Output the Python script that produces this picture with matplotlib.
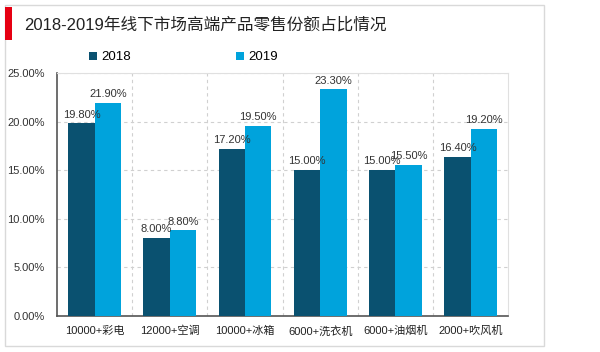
import matplotlib.pyplot as plt
import numpy as np
from matplotlib.patches import Rectangle

plt.rcParams['font.family'] = ['Liberation Sans', 'Noto Sans CJK SC', 'DejaVu Sans']

# datos
categorias = ["10000+彩电", "12000+空调", "10000+冰箱", "6000+洗衣机", "6000+油烟机", "2000+吹风机"]
valores_2018 = [19.80, 8.00, 17.20, 15.00, 15.00, 16.40]
valores_2019 = [21.90, 8.80, 19.50, 23.30, 15.50, 19.20]
yticks = [0, 5, 10, 15, 20, 25]

color_2018 = "#0A5170"
color_2019 = "#00A3DC"

fig = plt.figure(figsize=(6, 3.52), dpi=100)
ax = fig.add_axes([0.095, 0.102, 0.752, 0.691])

# marco exterior y barra roja
fig.patches.append(Rectangle((5/600, 1 - 346/352), 539/600, 341/352, transform=fig.transFigure,
                             fill=False, edgecolor="#D9D9D9", linewidth=1))
fig.patches.append(Rectangle((5/600, 1 - 40/352), 7/600, 33/352, transform=fig.transFigure,
                             facecolor="#E60012", edgecolor="none"))
fig.text(24/600, 1 - 25/352, "2018-2019年线下市场高端产品零售份额占比情况",
         fontsize=12, va="center", ha="left", color="#222222")

x = np.arange(len(categorias))
w = 0.35
b1 = ax.bar(x - w/2, valores_2018, w, color=color_2018, label="2018", zorder=3)
b2 = ax.bar(x + w/2, valores_2019, w, color=color_2019, label="2019", zorder=3)

for bars, vals in [(b1, valores_2018), (b2, valores_2019)]:
    for bar, v in zip(bars, vals):
        ax.text(bar.get_x() + bar.get_width()/2, v + 0.4, f"{v:.2f}%",
                ha="center", va="bottom", fontsize=8, color="#333333", zorder=4)

ax.set_xlim(-0.5, len(categorias) - 0.5)
ax.set_ylim(0, 25)
ax.set_yticks(yticks)
ax.set_yticklabels([f"{t:.2f}%" for t in yticks], fontsize=8, color="#333333")
ax.set_xticks(x)
ax.set_xticklabels(categorias, fontsize=8, color="#222222")
ax.tick_params(length=0, pad=7)
ax.tick_params(axis="y", pad=9)

ax.yaxis.grid(True, linestyle=(0, (3, 3)), color="#D0D0D0", linewidth=0.8, zorder=0)
for xv in np.arange(0.5, len(categorias) - 0.5, 1):
    ax.axvline(xv, linestyle=(0, (3, 3)), color="#D0D0D0", linewidth=0.8, zorder=0)

for s in ["top", "right"]:
    ax.spines[s].set_color("#E0E0E0")
    ax.spines[s].set_linewidth(0.8)
for s in ["left", "bottom"]:
    ax.spines[s].set_color("#555555")
    ax.spines[s].set_linewidth(1.2)

ax.legend(loc="lower center", bbox_to_anchor=(0.28, 0.99), ncol=2, frameon=False,
          fontsize=9.5, handlelength=0.6, handleheight=0.6, columnspacing=8, handletextpad=0.3)

plt.savefig("out.png", dpi=100)
